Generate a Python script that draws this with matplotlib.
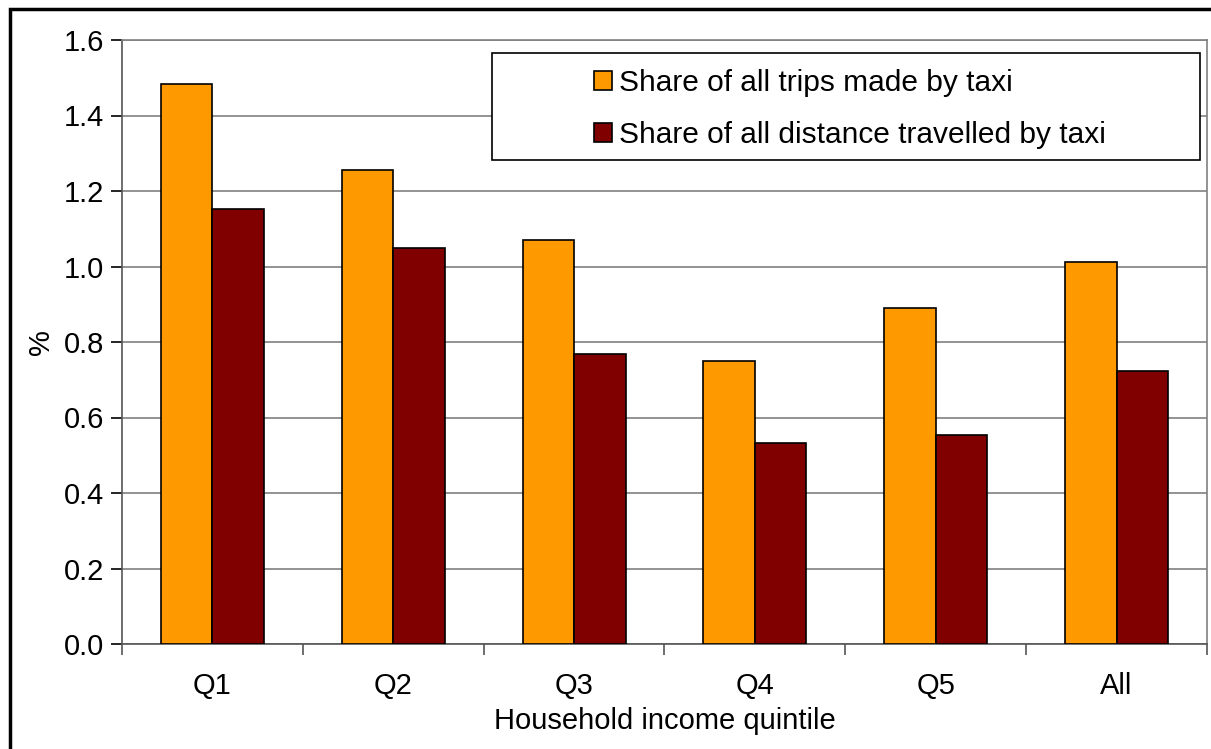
import matplotlib.pyplot as plt
import matplotlib.patches as patches
import numpy as np

plt.rcParams['font.family'] = ['Liberation Sans', 'DejaVu Sans']

# data
categories = ["Q1", "Q2", "Q3", "Q4", "Q5", "All"]
trips_share = [1.483, 1.256, 1.070, 0.750, 0.890, 1.012]
distance_share = [1.152, 1.049, 0.768, 0.532, 0.554, 0.723]

W, H = 1211, 749
fig = plt.figure(figsize=(W / 100, H / 100), dpi=100)
ax = fig.add_axes([122 / W, 1 - 644 / H, (1207 - 122) / W, (644 - 40) / H])

x = np.arange(len(categories))
w = 0.285
ax.bar(x - w / 2, trips_share, w, color="#FF9900", edgecolor="black", linewidth=1.2,
       label="Share of all trips made by taxi", zorder=3)
ax.bar(x + w / 2, distance_share, w, color="#800000", edgecolor="black", linewidth=1.2,
       label="Share of all distance travelled by taxi", zorder=3)

ax.set_xlim(-0.5, len(categories) - 0.5)
ax.set_ylim(0, 1.6)
ticks = np.arange(0, 1.61, 0.2)
ax.set_yticks(ticks)
ax.set_yticklabels([f"{v:.1f}" for v in ticks])
ax.yaxis.grid(True, color="#808080", linewidth=1.2, zorder=0)

# category labels centred, tick marks at group boundaries
ax.set_xticks(x)
ax.set_xticklabels(categories)
ax.tick_params(axis="x", length=0, pad=20, labelsize=21)
ax.set_xticks(np.arange(-0.5, len(categories)), minor=True)
ax.tick_params(axis="x", which="minor", length=8, width=1.2, color="#555555")
ax.tick_params(axis="y", length=8, width=1.2, labelsize=21, pad=5)

for s in ["top", "right"]:
    ax.spines[s].set_color("#808080")
ax.spines["left"].set_color("#555555")
ax.spines["bottom"].set_color("#555555")
for s in ax.spines.values():
    s.set_linewidth(1.2)

ax.set_ylabel("%", fontsize=21, labelpad=6)
ax.set_xlabel("Household income quintile", fontsize=21, labelpad=5)

# legend frame drawn separately, entries indented inside it
ax_w, ax_h = 1207 - 122, 644 - 40
frame = patches.Rectangle(((492 - 122) / ax_w, (644 - 160) / ax_h), (1200 - 492) / ax_w, (160 - 53) / ax_h,
                          transform=ax.transAxes, facecolor="white", edgecolor="black",
                          linewidth=1.2, zorder=4, clip_on=False)
ax.add_patch(frame)
leg = ax.legend(loc="center left", bbox_to_anchor=((594 - 122) / ax_w, (644 - 109) / ax_h),
                fontsize=21.5, frameon=False, handlelength=0.6, handleheight=0.6,
                handletextpad=0.25, borderpad=0, labelspacing=0.78, borderaxespad=0)
leg.set_zorder(5)

# outer chart border (left and top visible)
fig.patches.append(patches.Rectangle((10 / W, -0.1), 1.2, 1 - 9 / H + 0.1,
                                     transform=fig.transFigure, fill=False,
                                     edgecolor="black", linewidth=2.5))

fig.savefig("out.png", dpi=100)
